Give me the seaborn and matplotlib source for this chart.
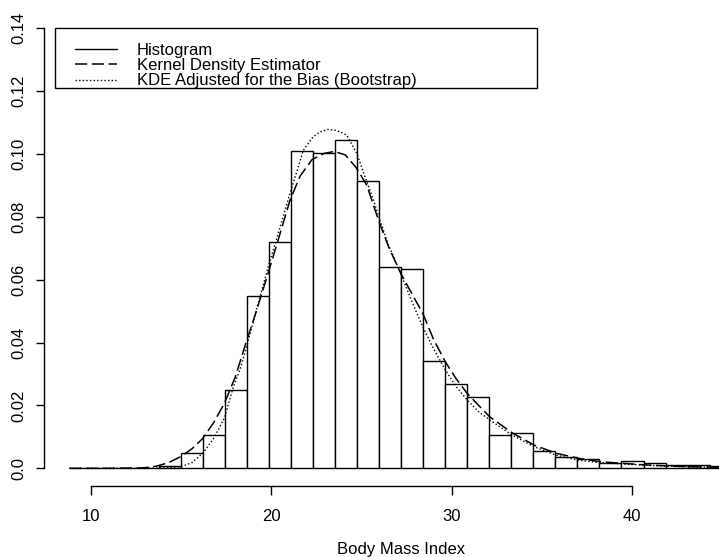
import matplotlib
matplotlib.use("Agg")
import matplotlib.pyplot as plt
from matplotlib.lines import Line2D
from matplotlib.patches import Rectangle
import numpy as np
import pandas as pd
import seaborn as sns

# Histogram of body mass index (density scale)
bin_edges = [8.86, 10.08, 11.31, 12.53, 13.75, 14.97, 16.20, 17.42, 18.64, 19.86,
             21.09, 22.31, 23.53, 24.75, 25.98, 27.20, 28.42, 29.64, 30.87, 32.09,
             33.31, 34.53, 35.76, 36.98, 38.20, 39.42, 40.65, 41.87, 43.09, 44.31, 45.54]
bin_density = [0.0, 0.0, 0.0, 0.0, 0.0007, 0.0048, 0.0107, 0.0250, 0.0548, 0.0720,
               0.1008, 0.1002, 0.1044, 0.0913, 0.0640, 0.0634, 0.0342, 0.0269, 0.0226, 0.0107,
               0.0113, 0.0054, 0.0037, 0.0031, 0.0018, 0.0022, 0.0016, 0.0010, 0.0010, 0.0006]

# Kernel density estimate
kde_x = [8.8, 11.0, 12.5, 13.0, 13.64, 14.3, 14.97, 15.6, 16.2, 16.8, 17.4, 18.0, 18.6,
         19.2, 19.82, 20.4, 21.04, 21.6, 22.26, 22.9, 23.48, 24.1, 24.70, 25.3, 25.94,
         26.5, 27.18, 27.8, 28.40, 29.0, 29.65, 30.25, 30.87, 31.5, 32.11, 33.35, 34.57,
         35.79, 37.01, 38.23, 39.45, 40.67, 41.89, 43.1, 44.3, 45.0]
kde_y = [0.0, 0.0, 0.0001, 0.0002, 0.0007, 0.0018, 0.0037, 0.0062, 0.0095, 0.0145,
         0.0207, 0.0290, 0.0400, 0.0505, 0.0620, 0.0730, 0.0853, 0.0930, 0.0982, 0.1001,
         0.1008, 0.0997, 0.0957, 0.0900, 0.0790, 0.0705, 0.0620, 0.0555, 0.0493, 0.0410,
         0.0339, 0.0285, 0.0238, 0.0200, 0.0164, 0.0113, 0.0074, 0.0048, 0.0032, 0.0021,
         0.0016, 0.0011, 0.0008, 0.0005, 0.0004, 0.0003]

# Bias-adjusted kernel density estimate (bootstrap)
adj_x = [8.8, 13.0, 14.0, 14.97, 15.6, 16.2, 16.8, 17.4, 17.9, 18.26, 18.6, 19.2, 19.83,
         20.4, 21.04, 21.78, 22.33, 22.7, 23.14, 23.6, 24.18, 24.74, 25.2, 25.66, 25.96,
         26.5, 27.18, 27.8, 28.4, 29.0, 29.65, 30.25, 30.87, 31.5, 32.11, 33.35, 34.57,
         35.79, 37.01, 38.23, 39.45, 40.67, 41.89, 43.1, 44.3, 45.0]
adj_y = [0.0, 0.0, 0.0001, 0.0005, 0.0018, 0.0048, 0.0095, 0.0160, 0.0260, 0.0313,
         0.0380, 0.0510, 0.0641, 0.0750, 0.0875, 0.1012, 0.1055, 0.1070, 0.1078, 0.1075,
         0.1060, 0.1002, 0.0927, 0.0855, 0.0800, 0.0710, 0.0620, 0.0530, 0.0450, 0.0380,
         0.0313, 0.0260, 0.0217, 0.0180, 0.0154, 0.0106, 0.0069, 0.0042, 0.0026, 0.0018,
         0.0014, 0.0010, 0.0007, 0.0005, 0.0003, 0.0002]

y_ticks = [0.0, 0.02, 0.04, 0.06, 0.08, 0.10, 0.12, 0.14]
y_tick_labels = ["0.0", "0.02", "0.04", "0.06", "0.08", "0.10", "0.12", "0.14"]
x_ticks = [10, 20, 30, 40]
x_tick_labels = ["10", "20", "30", "40"]
legend_labels = ["Histogram", "Kernel Density Estimator",
                 "KDE Adjusted for the Bias (Bootstrap)"]

sns.set_theme(style="ticks")
plt.rcParams["font.family"] = ["Liberation Sans", "DejaVu Sans"]
plt.rcParams["font.size"] = 12
plt.rcParams["text.color"] = "black"
plt.rcParams["axes.labelcolor"] = "black"

W, H = 719, 557
fig = plt.figure(figsize=(W / 100, H / 100), dpi=100)
fig.patch.set_facecolor("white")
ax = fig.add_axes([44.3 / W, (H - 485.7) / H, (W - 44.3) / W, (485.7 - 20) / H])
ax.set_facecolor("white")

edges = np.array(bin_edges)
mids = (edges[:-1] + edges[1:]) / 2
hist_df = pd.DataFrame({"bmi": mids, "density": bin_density})
sns.histplot(data=hist_df, x="bmi", weights="density", bins=bin_edges, stat="count",
             color="white", edgecolor="black", linewidth=1.0, alpha=1, ax=ax)

sns.lineplot(x=kde_x, y=kde_y, ax=ax, color="black", linewidth=1.1,
             linestyle=(0, (8, 3)), estimator=None, sort=False)
sns.lineplot(x=adj_x, y=adj_y, ax=ax, color="black", linewidth=1.0,
             linestyle=(0, (1, 1.6)), estimator=None, sort=False)

ax.set_xlim(7.41, 44.83)
ax.set_ylim(-0.00553, 0.1426)

ax.set_yticks(y_ticks, y_tick_labels, rotation=90, va="center")
ax.set_xticks(x_ticks, x_tick_labels)
ax.spines["top"].set_visible(False)
ax.spines["right"].set_visible(False)
ax.spines["left"].set_bounds(0.0, 0.14)
ax.spines["bottom"].set_bounds(10, 40)
for s in ("left", "bottom"):
    ax.spines[s].set_linewidth(1.0)
    ax.spines[s].set_color("black")
ax.tick_params(axis="y", direction="out", length=5.8, width=1.0, pad=7,
               labelsize=12, colors="black")
ax.tick_params(axis="x", direction="out", length=6.5, width=1.0, pad=10,
               labelsize=12, colors="black")
ax.set_ylabel("")
ax.set_xlabel("Body Mass Index", fontsize=12, labelpad=13, x=(401 - 44.3) / (W - 44.3))

# Legend with a wide outlined box
handles = [Line2D([], [], color="black", lw=1.0, linestyle="-"),
           Line2D([], [], color="black", lw=1.1, linestyle=(0, (8, 3))),
           Line2D([], [], color="black", lw=1.0, linestyle=(0, (1, 1.6)))]
fig.legend(handles, legend_labels, loc="upper left", frameon=False,
           bbox_to_anchor=(75 / W, 1 - 42.5 / H), bbox_transform=fig.transFigure,
           borderpad=0, borderaxespad=0, handlelength=2.5, handletextpad=1.2,
           labelspacing=0.03, fontsize=12)
fig.add_artist(Rectangle((55 / W, 1 - 88 / H), (537 - 55) / W, 60 / H,
                         transform=fig.transFigure, fill=False,
                         edgecolor="black", linewidth=1.0))

fig.savefig("out.png", dpi=100)
